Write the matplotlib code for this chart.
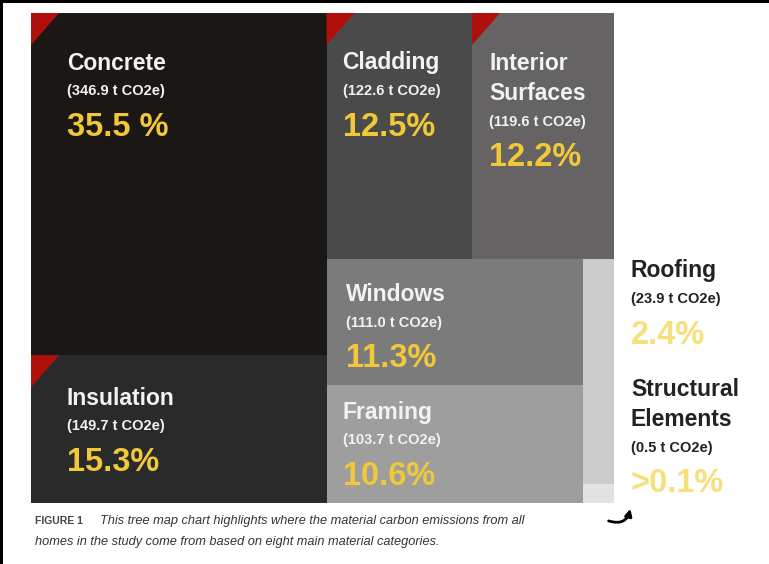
"""Tree map of material carbon emissions by category (figure 1 recreation)."""
import matplotlib
matplotlib.use("Agg")
import matplotlib.pyplot as plt
from matplotlib.patches import Rectangle, Polygon

plt.rcParams.update({"font.family": ["Liberation Sans", "DejaVu Sans"]})

# ---------------------------------------------------------------- data
CATS = ["Concrete", "Insulation", "Cladding", "Interior\nSurfaces",
        "Windows", "Framing", "Roofing", "Structural\nElements"]
TONNES = [346.9, 149.7, 122.6, 119.6, 111.0, 103.7, 23.9, 0.5]
PCT_LABELS = ["35.5 %", "15.3%", "12.5%", "12.2%", "11.3%", "10.6%", "2.4%", ">0.1%"]
# the tiny structural cell is drawn larger than its share in the original
AREA = [346.9, 149.7, 122.6, 119.6, 111.0, 103.7, 23.9, 2.0]
COLORS = ["#1b1714", "#2b2a2a", "#4b4a4a", "#666364",
          "#7b7b7b", "#9e9e9e", "#cbcbcb", "#e2e2e2"]

RED = "#b0100c"
GOLD = "#f0c838"
PALE = "#f6e07c"

# treemap region in pixels
X0, Y0, W, H = 31, 13, 583, 490

fig = plt.figure(figsize=(7.69, 5.64), dpi=100)
ax = fig.add_axes([0, 0, 1, 1])
ax.set_xlim(0, 769)
ax.set_ylim(564, 0)
ax.axis("off")

# ---------------------------------------------------------------- layout (slice and dice)
a = AREA
tot = sum(a)
left_w = W * (a[0] + a[1]) / tot
rects = {}
h0 = H * a[0] / (a[0] + a[1])
rects[0] = (X0, Y0, left_w, h0)
rects[1] = (X0, Y0 + h0, left_w, H - h0)
rx, rw = X0 + left_w, W - left_w
rest = sum(a[2:])
top_h = H * (a[2] + a[3]) / rest
cw = rw * a[2] / (a[2] + a[3])
rects[2] = (rx, Y0, cw, top_h)
rects[3] = (rx + cw, Y0, rw - cw, top_h)
by, bh = Y0 + top_h, H - top_h
wf_w = rw * (a[4] + a[5]) / sum(a[4:])
wh = bh * a[4] / (a[4] + a[5])
rects[4] = (rx, by, wf_w, wh)
rects[5] = (rx, by + wh, wf_w, bh - wh)
rh = bh * a[6] / (a[6] + a[7])
rects[6] = (rx + wf_w, by, rw - wf_w, rh)
rects[7] = (rx + wf_w, by + rh, rw - wf_w, bh - rh)

for i, (x, y, w, h) in rects.items():
    ax.add_patch(Rectangle((x, y), w, h, facecolor=COLORS[i], edgecolor="none"))

# red corner flags
for i in (0, 1, 2, 3):
    x, y = rects[i][0], rects[i][1]
    ax.add_patch(Polygon([(x, y), (x + 28, y), (x, y + 32)], closed=True,
                         facecolor=RED, edgecolor="none"))

# ---------------------------------------------------------------- labels
# offsets of the label block from each tile's top-left corner
OFFS = {0: (36, 50), 1: (36, 43), 2: (16, 50), 3: (17, 50), 4: (19, 36), 5: (16, 27)}


def label(x, y, name, tonnes, pct, c_txt, c_pct):
    lines = name.split("\n")
    for k, ln in enumerate(lines):
        ax.text(x, y + 31 * k, ln, fontsize=16.5, fontweight="bold", color=c_txt, va="center")
    y += 31 * (len(lines) - 1) + 28
    ax.text(x, y, f"({tonnes:.1f} t CO2e)", fontsize=10.5, fontweight="bold", color=c_txt,
            va="center")
    y += 36
    ax.text(x, y, pct, fontsize=23.5, fontweight="bold", color=c_pct, va="center")


for i, (dx, dy) in OFFS.items():
    label(rects[i][0] + dx, rects[i][1] + dy, CATS[i], TONNES[i], PCT_LABELS[i],
          "#f2f2f2", GOLD)

# the two thin cells are labelled outside the map
label(631, 271, CATS[6], TONNES[6], PCT_LABELS[6], "#222222", PALE)
label(631, 389, CATS[7], TONNES[7], PCT_LABELS[7], "#222222", PALE)

ax.annotate("", xy=(631, 506), xytext=(606, 520),
            arrowprops=dict(arrowstyle="-|>", color="black", lw=2,
                            connectionstyle="arc3,rad=0.6", mutation_scale=10))

# ---------------------------------------------------------------- caption
ax.text(35, 521, "FIGURE 1", fontsize=7.5, fontweight="bold", color="#444", va="center")
ax.text(100, 521, "This tree map chart highlights where the material carbon emissions from all",
        fontsize=9.2, style="italic", color="#333", va="center")
ax.text(35, 542, "homes in the study come from based on eight main material categories.",
        fontsize=9.2, style="italic", color="#333", va="center")

# frame on top and left edges
ax.add_patch(Rectangle((0, 0), 769, 2.5, facecolor="black", edgecolor="none"))
ax.add_patch(Rectangle((0, 0), 3, 564, facecolor="black", edgecolor="none"))

fig.savefig("out.png", dpi=100)
